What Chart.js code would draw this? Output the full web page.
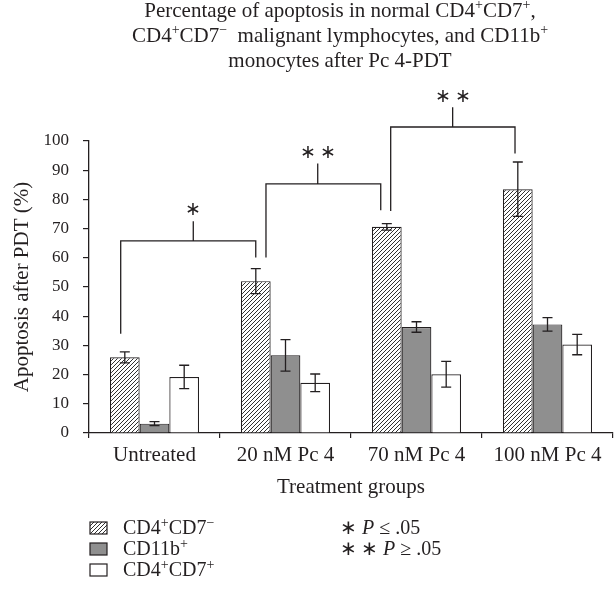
<!DOCTYPE html>
<html><head><meta charset="utf-8">
<script src="https://cdn.jsdelivr.net/npm/chart.js@4.4.1/dist/chart.umd.min.js"></script>
<style>html,body{margin:0;padding:0;background:#fff}#wrap{width:614px;height:594px;position:relative}canvas{display:block}</style>
</head><body><div id="wrap"><canvas id="c" width="614" height="594"></canvas></div>
<script>
// ---- data ----
const categories = ['Untreated', '20 nM Pc 4', '70 nM Pc 4', '100 nM Pc 4'];
const seriesNames = ['CD4^{+}CD7^{\u2212}', 'CD11b^{+}', 'CD4^{+}CD7^{+}'];
const cd4cd7neg    = [25.9, 52.0, 70.6, 83.5];
const cd4cd7negErr = [1.9, 4.3, 1.1, 9.3];
const cd11b        = [3.2, 26.6, 36.3, 37.2];
const cd11bErr     = [0.7, 5.4, 1.8, 2.3];
const cd4cd7pos    = [19.2, 17.2, 20.1, 30.3];
const cd4cd7posErr = [4.0, 3.0, 4.4, 3.5];
const yTickValues  = [0, 10, 20, 30, 40, 50, 60, 70, 80, 90, 100];
// significance brackets (x in category units, y in % units)
const bracketFromX  = [-0.258, 0.851, 1.803];
const bracketToX    = [0.773, 1.727, 2.752];
const bracketMidX   = [0.296, 1.246, 2.276];
const bracketFromY  = [34.0, 60.1, 76.0];
const bracketTopY   = [65.8, 85.3, 104.8];
const bracketToY    = [60.1, 76.3, 95.7];
const bracketTickY  = [72.5, 92.3, 111.6];
const bracketLabelY = [76.3, 95.9, 114.9];
const bracketLabels = ['\u2217', '\u2217\u2009\u2217', '\u2217\u2009\u2217'];
const titleLines = [
  'Percentage of apoptosis in normal CD4^{+}CD7^{+},',
  'CD4^{+}CD7^{\u2212}  malignant lymphocytes, and CD11b^{+}',
  'monocytes after Pc 4-PDT'
];
const sigNotes = ['\u2217 ~{P} \u2264 .05', '\u2217\u2009\u2217 ~{P} \u2265 .05'];

// ---- styles ----
const FONT = "'Liberation Serif', 'Times New Roman', serif";
const INK = '#231f20';
const GRAY = '#8f8f8f';

function makeHatch() {
  const p = 4;
  const c = document.createElement('canvas');
  c.width = p; c.height = p;
  const g = c.getContext('2d');
  g.fillStyle = '#fff'; g.fillRect(0, 0, p, p);
  g.strokeStyle = '#1a1a1a'; g.lineWidth = 0.9;
  g.beginPath();
  g.moveTo(-1, p + 1); g.lineTo(p + 1, -1);
  g.moveTo(-1, 1); g.lineTo(1, -1);
  g.moveTo(p - 1, p + 1); g.lineTo(p + 1, p - 1);
  g.stroke();
  return document.getElementById('c').getContext('2d').createPattern(c, 'repeat');
}
const hatch = makeHatch();
const fills = [hatch, GRAY, '#ffffff'];

function parseRich(str) {
  const out = []; const re = /([\^~])\{([^}]*)\}/g; let last = 0, m;
  while ((m = re.exec(str))) {
    if (m.index > last) out.push({ t: str.slice(last, m.index) });
    out.push({ t: m[2], sup: m[1] === '^', it: m[1] === '~' });
    last = re.lastIndex;
  }
  if (last < str.length) out.push({ t: str.slice(last) });
  return out;
}
function segFont(s, size) {
  return (s.it ? 'italic ' : '') + (s.sup ? Math.round(size * 0.68) : size) + 'px ' + FONT;
}
function drawRich(ctx, str, x, y, size, align) {
  const segs = parseRich(str);
  let w = 0;
  segs.forEach(s => { ctx.font = segFont(s, size); s.w = ctx.measureText(s.t).width; w += s.w; });
  let cx = align === 'center' ? x - w / 2 : (align === 'right' ? x - w : x);
  ctx.textAlign = 'left'; ctx.textBaseline = 'alphabetic';
  segs.forEach(s => {
    ctx.font = segFont(s, size);
    ctx.fillText(s.t, cx, s.sup ? y - size * 0.36 : y);
    cx += s.w;
  });
}

const errorBars = {
  id: 'errorBars',
  afterDatasetsDraw(chart) {
    const ctx = chart.ctx, ys = chart.scales.y;
    const errs = [cd4cd7negErr, cd11bErr, cd4cd7posErr];
    ctx.save(); ctx.strokeStyle = INK; ctx.lineWidth = 1.3;
    chart.data.datasets.forEach((ds, i) => {
      chart.getDatasetMeta(i).data.forEach((el, j) => {
        const v = ds.data[j], e = errs[i][j];
        const t = ys.getPixelForValue(v + e), b = ys.getPixelForValue(v - e);
        ctx.beginPath();
        ctx.moveTo(el.x, t); ctx.lineTo(el.x, b);
        ctx.moveTo(el.x - 5, t); ctx.lineTo(el.x + 5, t);
        ctx.moveTo(el.x - 5, b); ctx.lineTo(el.x + 5, b);
        ctx.stroke();
      });
    });
    ctx.restore();
  }
};

const brackets = {
  id: 'brackets',
  afterDraw(chart) {
    const ctx = chart.ctx, xs = chart.scales.x, ys = chart.scales.y;
    ctx.save(); ctx.strokeStyle = INK; ctx.lineWidth = 1.3; ctx.fillStyle = INK;
    bracketFromX.forEach((fx, i) => {
      const x1 = xs.getPixelForValue(fx), x2 = xs.getPixelForValue(bracketToX[i]), xm = xs.getPixelForValue(bracketMidX[i]);
      const yt = ys.getPixelForValue(bracketTopY[i]);
      ctx.beginPath();
      ctx.moveTo(x1, ys.getPixelForValue(bracketFromY[i])); ctx.lineTo(x1, yt);
      ctx.lineTo(x2, yt); ctx.lineTo(x2, ys.getPixelForValue(bracketToY[i]));
      ctx.moveTo(xm, yt); ctx.lineTo(xm, ys.getPixelForValue(bracketTickY[i]));
      ctx.stroke();
      ctx.font = '19px ' + FONT; ctx.textAlign = 'center'; ctx.textBaseline = 'middle';
      ctx.fillText(bracketLabels[i], xm, ys.getPixelForValue(bracketLabelY[i]));
    });
    ctx.restore();
  }
};

const textBlocks = {
  id: 'textBlocks',
  afterDraw(chart) {
    const ctx = chart.ctx;
    ctx.save(); ctx.fillStyle = INK;
    titleLines.forEach((l, i) => drawRich(ctx, l, 340, 17 + i * 25, 21, 'center'));
    // legend
    const left = chart.chartArea.left;
    const rows = [534, 555, 576];
    seriesNames.forEach((n, i) => {
      const by = rows[i] - 12;
      ctx.fillStyle = fills[i];
      ctx.fillRect(left + 1, by, 17, 12);
      ctx.strokeStyle = INK; ctx.lineWidth = 1.2;
      ctx.strokeRect(left + 1, by, 17, 12);
      ctx.fillStyle = INK;
      drawRich(ctx, n, left + 34, rows[i], 20, 'left');
    });
    sigNotes.forEach((n, i) => drawRich(ctx, n, 340, rows[i], 20, 'left'));
    ctx.restore();
  }
};

new Chart(document.getElementById('c'), {
  type: 'bar',
  data: {
    labels: categories,
    datasets: [
      { label: 'CD4+CD7\u2212', data: cd4cd7neg, backgroundColor: fills[0], borderColor: INK, borderWidth: 1.2 },
      { label: 'CD11b+', data: cd11b, backgroundColor: fills[1], borderColor: INK, borderWidth: 1.2 },
      { label: 'CD4+CD7+', data: cd4cd7pos, backgroundColor: fills[2], borderColor: INK, borderWidth: 1.2 }
    ]
  },
  options: {
    responsive: false,
    animation: false,
    layout: { padding: { left: 0, right: 1, top: 141, bottom: 92 } },
    datasets: { bar: { categoryPercentage: 0.68, barPercentage: 1 } },
    plugins: { legend: { display: false }, title: { display: false }, tooltip: { enabled: false } },
    scales: {
      x: {
        offset: true,
        grid: { display: true, drawOnChartArea: false, offset: true, tickLength: 5, color: INK, lineWidth: 1.2 },
        border: { display: true, color: INK, width: 1.3 },
        ticks: { font: { family: FONT, size: 21 }, color: INK, padding: 5 },
        title: { display: true, text: 'Treatment groups', font: { family: FONT, size: 21 }, color: INK, padding: { top: 0, bottom: 2 } },
        afterFit(s) { s.height = 69; }
      },
      y: {
        min: 0, max: 100,
        afterBuildTicks(s) { s.ticks = yTickValues.map(v => ({ value: v })); },
        grid: { display: true, drawOnChartArea: false, tickLength: 6, color: INK, lineWidth: 1.2 },
        border: { display: true, color: INK, width: 1.3 },
        ticks: { font: { family: FONT, size: 17 }, color: INK, padding: 14 },
        title: { display: true, text: 'Apoptosis after PDT (%)', font: { family: FONT, size: 21 }, color: INK, padding: { top: 10, bottom: 0 } },
        afterFit(s) { s.width = 89; }
      }
    }
  },
  plugins: [errorBars, brackets, textBlocks]
});
</script></body></html>
